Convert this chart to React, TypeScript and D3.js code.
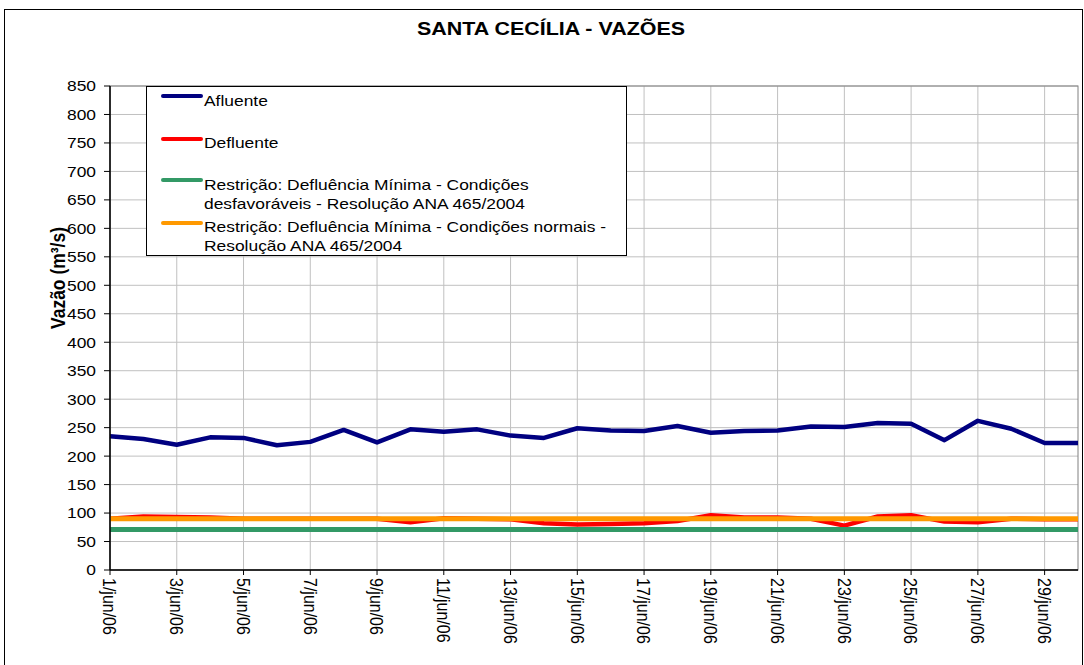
import React from "react";
import { scaleLinear, line, range } from "d3";

const days = range(1, 31);
const afluente = [235, 230, 220, 233, 232, 219, 225, 246, 224, 247, 243, 247, 236, 232, 249, 245, 244, 253, 241, 244, 245, 252, 251, 258, 257, 228, 262, 248, 223, 223];
const defluente = [90, 94, 93, 92, 90, 90, 90, 90, 90, 84, 91, 90, 89, 82, 80, 81, 82, 86, 96, 92, 92, 90, 78, 94, 96, 85, 84, 90, 89, 89];
const minUnfavorable = days.map(() => 71);
const minNormal = days.map(() => 90);
const yTicks = range(0, 851, 50);
const xTickDays = range(1, 31, 2);

const series = [
  { name: "Afluente", values: afluente, color: "#000080", width: 4.5 },
  { name: "Defluente", values: defluente, color: "#FF0000", width: 4.5 },
  { name: "Restrição: Defluência Mínima - Condições|desfavoráveis - Resolução ANA 465/2004", values: minUnfavorable, color: "#339966", width: 5 },
  { name: "Restrição: Defluência Mínima - Condições normais -|Resolução ANA 465/2004", values: minNormal, color: "#FF9900", width: 5 },
];

// text in the original is stretched horizontally
const SX = 1.16;

export default function App() {
  const width = 1084;
  const height = 665;
  const margin = { left: 110, right: 6, top: 86, bottom: 95 };
  const plotRight = width - margin.right;
  const plotBottom = height - margin.bottom;

  const x = scaleLinear().domain([1, 30]).range([margin.left, plotRight]);
  const y = scaleLinear().domain([0, 850]).range([plotBottom, margin.top]);
  const font = "'Liberation Sans', Arial, sans-serif";

  const path = line<number>()
    .x((_, i) => x(days[i]))
    .y(d => y(d));

  // legend line y and text baselines
  const legendLineY = [96, 139, 180, 223];
  const legendBase = [106, 148, 190, 232];

  return (
    <svg width={width} height={height} style={{ position: "absolute", left: 0, top: 0 }} fontFamily={font}>
      <rect x={0} y={0} width={width} height={height} fill="#fff" />
      <rect x={4.5} y={9.5} width={width - 6} height={height} fill="#fff" stroke="#000" strokeWidth={1} />
      <text transform={`translate(551,35) scale(${SX},1)`} textAnchor="middle" fontSize={18.5} fontWeight="bold">
        SANTA CECÍLIA - VAZÕES
      </text>

      {/* grid */}
      {yTicks.map(t => (
        <line key={"gy" + t} x1={margin.left} x2={plotRight} y1={y(t)} y2={y(t)} stroke="#c0c0c0" strokeWidth={1} />
      ))}
      {xTickDays.map(d => (
        <line key={"gx" + d} x1={x(d)} x2={x(d)} y1={margin.top} y2={plotBottom} stroke="#c0c0c0" strokeWidth={1} />
      ))}
      <rect x={margin.left} y={margin.top} width={plotRight - margin.left} height={plotBottom - margin.top} fill="none" stroke="#808080" strokeWidth={1} />

      {/* series */}
      {series.map(s => (
        <path key={s.name} d={path(s.values) || ""} fill="none" stroke={s.color} strokeWidth={s.width} strokeLinejoin="round" />
      ))}

      {/* axes */}
      <line x1={margin.left} x2={margin.left} y1={margin.top} y2={plotBottom} stroke="#000" strokeWidth={1.5} />
      <line x1={margin.left} x2={plotRight} y1={plotBottom} y2={plotBottom} stroke="#000" strokeWidth={1.5} />
      {yTicks.map(t => (
        <g key={"ty" + t}>
          <line x1={margin.left - 6} x2={margin.left} y1={y(t)} y2={y(t)} stroke="#000" />
          <text transform={`translate(96,${y(t)}) scale(${SX},1)`} dy="0.36em" textAnchor="end" fontSize={15}>
            {t}
          </text>
        </g>
      ))}
      {xTickDays.map(d => (
        <g key={"tx" + d}>
          <line x1={x(d)} x2={x(d)} y1={plotBottom} y2={plotBottom + 5} stroke="#000" />
          <text transform={`translate(${x(d)},${plotBottom + 8}) scale(${SX},1) rotate(90)`} dy="0.36em" fontSize={16}>
            {`${d}/jun/06`}
          </text>
        </g>
      ))}
      <text transform={`translate(65,278) scale(${SX},1) rotate(-90)`} textAnchor="middle" fontSize={17.5} fontWeight="bold">
        Vazão (m³/s)
      </text>

      {/* legend */}
      <rect x={146.5} y={86.5} width={480} height={169} fill="#fff" stroke="#000" strokeWidth={1} />
      {series.map((s, i) => (
        <g key={"lg" + i}>
          <line x1={163} x2={201} y1={legendLineY[i]} y2={legendLineY[i]} stroke={s.color} strokeWidth={4} strokeLinecap="round" />
          {s.name.split("|").map((part, j) => (
            <text key={j} transform={`translate(204,${legendBase[i] + j * 18.5}) scale(${SX},1)`} fontSize={15}>
              {part}
            </text>
          ))}
        </g>
      ))}
    </svg>
  );
}
